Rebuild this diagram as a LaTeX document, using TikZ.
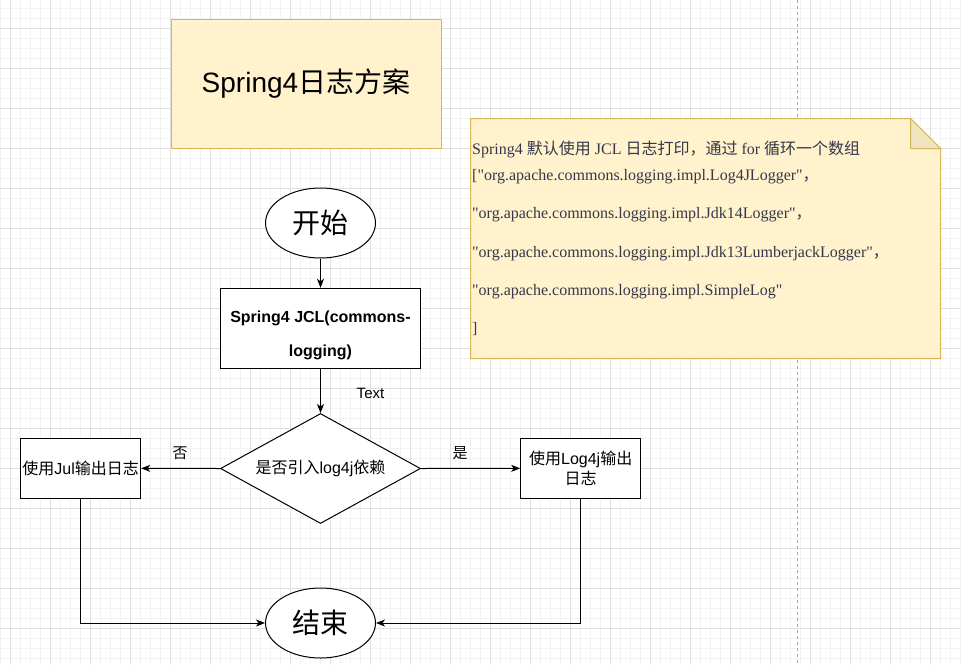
\documentclass[tikz,border=0pt]{standalone}
\usepackage{fontspec}
\setmainfont{Liberation Sans}
\newfontfamily\cjk{Noto Sans CJK SC}
\newfontfamily\notefont{Liberation Serif}
\usetikzlibrary{shapes.geometric,arrows.meta}
\definecolor{notefill}{HTML}{FFF2CC}
\definecolor{notedraw}{HTML}{D6B656}
\definecolor{foldfill}{HTML}{EFE3C0}
\definecolor{gridminor}{HTML}{F2F2F2}
\definecolor{gridmajor}{HTML}{E0E0E0}
\definecolor{notetext}{HTML}{34384A}
\tikzset{
  yellowbox/.style={draw=notedraw, fill=notefill, line width=1pt, inner sep=0pt},
  flowbox/.style={draw=black, fill=white, line width=1pt, inner sep=0pt, align=center},
  flowell/.style={ellipse, draw=black, fill=white, line width=1pt, inner sep=0pt},
  arr/.style={draw=black, line width=1pt, -{Stealth[length=9pt,width=7pt,inset=2.5pt]}},
  lbl/.style={inner sep=0pt, font=\fontsize{15}{18}\selectfont},
  boxtext/.style={font=\fontsize{16}{20}\selectfont},
  noteline/.style={anchor=base west, inner sep=0pt, text=notetext, font=\fontsize{16}{20}\notefont}
}
\begin{document}
\begin{tikzpicture}[x=1pt,y=-1pt]
\useasboundingbox (0,0) rectangle (961,665);
\fill[white] (0,0) rectangle (961,665);
\foreach \x in {0,10,...,960} \draw[gridminor, line width=1pt] (\x,0) -- (\x,665);
\foreach \y in {-2,8,...,665} \draw[gridminor, line width=1pt] (0,\y) -- (961,\y);
\foreach \x in {10,50,...,960} \draw[gridmajor, line width=1pt] (\x,0) -- (\x,665);
\foreach \y in {28,68,...,665} \draw[gridmajor, line width=1pt] (0,\y) -- (961,\y);
\draw[gray!70, line width=0.8pt, dash pattern=on 3pt off 3pt] (797,0) -- (797,665);

% title
\node[yellowbox, anchor=north west, minimum width=270, minimum height=129.5,
      font=\fontsize{28}{34}\selectfont] (title) at (170.5,18.5) {Spring4{\cjk 日志方案}};

% note
\path[draw=notedraw, fill=notefill, line width=1pt] (470.5,118.5) -- (910.5,118.5) -- (940.5,148.5) -- (940.5,358.5) -- (470.5,358.5) -- cycle;
\path[draw=notedraw, fill=foldfill, line width=1pt] (910.5,118.5) -- (910.5,148.5) -- (940.5,148.5) -- cycle;
\node[noteline] (n1) at (472,154) {Spring4 {\cjk 默认使用} JCL {\cjk 日志打印，通过} for {\cjk 循环一个数组}};
\node[noteline] (n2) at (472,180) {["org.apache.commons.logging.impl.Log4JLogger"{\cjk ，}};
\node[noteline] (n3) at (472,218) {"org.apache.commons.logging.impl.Jdk14Logger"{\cjk ，}};
\node[noteline] (n4) at (472,257) {"org.apache.commons.logging.impl.Jdk13LumberjackLogger"{\cjk ，}};
\node[noteline] (n5) at (472,295) {"org.apache.commons.logging.impl.SimpleLog"};
\node[noteline] (n6) at (472,333) {]};

% flow
\node[flowell, minimum width=110, minimum height=70, font=\fontsize{28}{34}\cjk] (start) at (320.5,223) {开始};
\node[flowbox, minimum width=200, minimum height=80, font=\fontsize{16}{34}\bfseries\selectfont] (jcl) at (320.5,328.3) {\rule{0pt}{25pt}Spring4 JCL(commons-\\logging)};
\node[diamond, draw=black, fill=white, line width=1pt, inner sep=0pt, minimum width=200, minimum height=110] (dia) at (320.5,468.5) {};
\node[boxtext, inner sep=0pt] (diatext) at (dia.center) {{\cjk 是否引入}log4j{\cjk 依赖}};
\node[flowbox, boxtext, minimum width=120, minimum height=60] (jul) at (80.7,468.3) {{\cjk 使用}Jul{\cjk 输出日志}};
\node[flowbox, boxtext, minimum width=120, minimum height=60] (log4j) at (580.7,468.3) {{\cjk 使用}Log4j{\cjk 输出}\\{\cjk 日志}};
\node[flowell, minimum width=110, minimum height=70, font=\fontsize{28}{34}\cjk] (end) at (320.5,623) {结束};

\draw[arr] (start) -- (jcl);
\draw[arr] (jcl) -- (dia);
\node[lbl] (lbltext) at (370.5,393) {Text};
\draw[arr] (dia.west) -- (jul.east);
\node[lbl] (lblno) at (180,453) {\cjk 否};
\draw[arr] (dia.east) -- (log4j.west);
\node[lbl] (lblyes) at (460,453) {\cjk 是};
\draw[arr] (jul.south) |- (end.west);
\draw[arr] (log4j.south) |- (end.east);
\end{tikzpicture}
\end{document}
